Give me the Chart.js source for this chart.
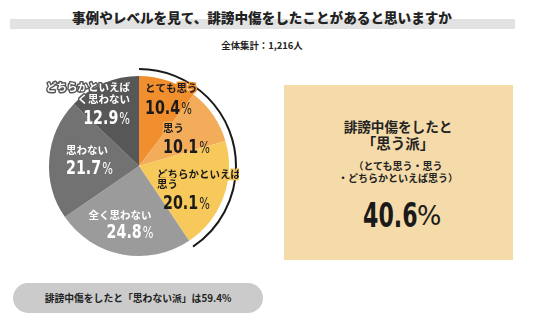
<!DOCTYPE html>
<html>
<head>
<meta charset="utf-8">
<script src="https://cdn.jsdelivr.net/npm/chart.js@4.4.0/dist/chart.umd.min.js"></script>
<style>
  body { margin: 0; width: 544px; height: 322px; background: #fff; position: relative; overflow: hidden;
         font-family: "Noto Sans CJK JP", "Noto Sans", sans-serif; }
  .abs { position: absolute; }
  #band { left: 10px; top: 19px; width: 505px; height: 10px; background: #e2e2e2; }
  #title { left: 0; width: 524px; top: 7px; text-align: center; font-size: 13.6px; font-weight: 900; color: #222; line-height: 20px; }
  #sub { left: 0; width: 524px; top: 38px; text-align: center; font-size: 9.4px; font-weight: bold; color: #222; line-height: 14px; }
  #pieWrap { left: 39px; top: 66px; width: 200px; height: 200px; }
  #box { left: 284px; top: 85px; width: 229px; height: 175px; background: #f5dbaa; text-align: center; color: #222; font-weight: bold; }
  #box .l1 { position: absolute; left: 0; width: 228px; top: 32px; font-size: 13.6px; line-height: 18px; }
  #box .l2 { position: absolute; left: 0; width: 228px; top: 49px; font-size: 14.5px; line-height: 18px; }
  #box .l3 { position: absolute; left: 0; width: 228px; top: 75px; font-size: 10px; line-height: 12px; }
  #box .num { position: absolute; left: 79px; top: 110px; font-size: 34px; line-height: 40px; font-weight: bold;
              font-family: "DejaVu Sans", sans-serif; transform: scaleX(0.65); transform-origin: left center; color: #1a1a1a; }
  #box .pct { position: absolute; left: 133px; top: 113px; font-size: 27px; line-height: 36px; font-weight: normal;
              font-family: "DejaVu Sans", sans-serif; transform: scaleX(0.95); transform-origin: left center; color: #1a1a1a; }
  #pill { left: 13px; top: 283px; width: 250px; height: 30px; border-radius: 15px; background: #cbcbcb;
          text-align: center; line-height: 30px; font-size: 9.8px; font-weight: bold; color: #222; }
</style>
</head>
<body>
<div id="band" class="abs"></div>
<div id="title" class="abs">事例やレベルを見て、誹謗中傷をしたことがあると思いますか</div>
<div id="sub" class="abs">全体集計：1,216人</div>
<div id="pieWrap" class="abs"><canvas id="pie"></canvas></div>
<div id="box" class="abs">
  <div class="l1">誹謗中傷をしたと</div>
  <div class="l2">「思う派」</div>
  <div class="l3">（とても思う・思う<br>・どちらかといえば思う）</div>
  <div class="num" id="bigVal"></div>
  <div class="pct">%</div>
</div>
<div id="pill" class="abs"></div>
<script>
// 回答カテゴリと割合（%）
const categories = ['とても思う', '思う', 'どちらかといえば思う', '全く思わない', '思わない', 'どちらかといえば全く思わない'];
const values = [10.4, 10.1, 20.1, 24.8, 21.7, 12.9];
const colors = ['#f18f2e', '#f3ac5a', '#f7c95b', '#9b9b9b', '#727272', '#575757'];
const thinkGroup = [0, 1, 2]; // 「思う派」
const thinkTotal = 40.6;
const notThinkTotal = 59.4;

document.getElementById('bigVal').textContent = thinkTotal.toFixed(1);
document.getElementById('pill').textContent = '誹謗中傷をしたと「思わない派」は' + notThinkTotal + '%';

// ラベルの表示（中心からのずれ, px）
const labelText = [
    ['とても思う'],
    ['思う'],
    ['どちらかといえば', '思う'],
    ['全く思わない'],
    ['思わない'],
    ['どちらかといえば', 'く思わない']
];
const labelPos = [
    { align: 'left', x: 6, y: [-78], nx: 6, ny: -59 },
    { align: 'left', x: 24, y: [-38], nx: 24, ny: -20 },
    { align: 'left', x: 18, y: [8, 18], nx: 24, ny: 36 },
    { align: 'center', x: -19, y: [49], nx: -9, ny: 65 },
    { align: 'left', x: -73, y: [-16], nx: -73, ny: 1 },
    { align: 'right', x: -9, y: [-79, -67], nx: -9, ny: -49 }
];
const labelDark = [true, true, true, false, false, false];

const NUM_FONT = 'bold 19px "DejaVu Sans", sans-serif';
const PCT_FONT = '15px "DejaVu Sans", sans-serif';
const SQ = 0.75; // 数字を細長く

const labelPlugin = {
    id: 'sliceLabels',
    afterDatasetsDraw(chart) {
        const ctx = chart.ctx;
        const meta = chart.getDatasetMeta(0);
        const cx = meta.data[0].x, cy = meta.data[0].y;
        const r = meta.data[0].outerRadius;

        // 「思う派」を囲む黒い弧
        const a0 = meta.data[thinkGroup[0]].startAngle;
        const a1 = meta.data[thinkGroup[thinkGroup.length - 1]].endAngle;
        ctx.save();
        ctx.beginPath();
        ctx.arc(cx, cy, r + 7, a0, a1);
        ctx.strokeStyle = '#1a1a1a';
        ctx.lineWidth = 2;
        ctx.stroke();
        ctx.restore();

        values.forEach((v, i) => {
            const p = labelPos[i];
            const col = labelDark[i] ? '#1a1a1a' : '#ffffff';
            ctx.save();
            ctx.fillStyle = col;
            ctx.strokeStyle = colors[i];
            ctx.lineWidth = 3;
            ctx.lineJoin = 'round';
            ctx.textAlign = p.align;
            ctx.textBaseline = 'middle';
            ctx.font = 'bold 10.5px "Noto Sans CJK JP", sans-serif';
            labelText[i].forEach((t, k) => {
                ctx.strokeText(t, cx + p.x, cy + p.y[k]);
                ctx.fillText(t, cx + p.x, cy + p.y[k]);
            });
            // 数値 + %
            const num = v.toFixed(1);
            ctx.font = NUM_FONT;
            const wNum = ctx.measureText(num).width * SQ;
            ctx.font = PCT_FONT;
            const wPct = ctx.measureText('%').width * SQ;
            const total = wNum + 1 + wPct;
            let left = cx + p.nx;
            if (p.align === 'center') left -= total / 2;
            if (p.align === 'right') left -= total;
            const base = cy + p.ny + 7;
            ctx.textAlign = 'left';
            ctx.textBaseline = 'alphabetic';
            ctx.translate(left, base);
            ctx.scale(SQ, 1);
            ctx.font = NUM_FONT;
            ctx.fillText(num, 0, 0);
            ctx.font = PCT_FONT;
            ctx.fillText('%', (wNum + 1) / SQ, 0);
            ctx.restore();
        });
    }
};

new Chart(document.getElementById('pie').getContext('2d'), {
    type: 'pie',
    data: {
        labels: categories,
        datasets: [{
            data: values,
            backgroundColor: colors,
            borderWidth: 0
        }]
    },
    options: {
        responsive: true,
        maintainAspectRatio: false,
        animation: false,
        layout: { padding: 10 },
        plugins: {
            legend: { display: false },
            tooltip: { enabled: false }
        }
    },
    plugins: [labelPlugin]
});
</script>
</body>
</html>
